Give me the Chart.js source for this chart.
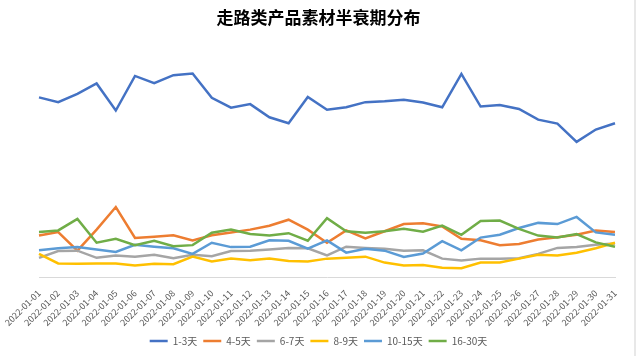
<!DOCTYPE html>
<html>
<head>
<meta charset="utf-8">
<script src="https://cdn.jsdelivr.net/npm/chart.js@4/dist/chart.umd.min.js"></script>
<style>
html,body{margin:0;padding:0;background:#fff;}
#wrap{position:relative;width:637px;height:356px;}
#edge{position:absolute;left:634px;top:0;width:2px;height:356px;background:#e8e8e8;}
</style>
</head>
<body>
<div id="wrap"><canvas id="c" width="637" height="356"></canvas><div id="edge"></div></div>
<script>
const categories = ["2022-01-01","2022-01-02","2022-01-03","2022-01-04","2022-01-05","2022-01-06","2022-01-07","2022-01-08","2022-01-09","2022-01-10","2022-01-11","2022-01-12","2022-01-13","2022-01-14","2022-01-15","2022-01-16","2022-01-17","2022-01-18","2022-01-19","2022-01-20","2022-01-21","2022-01-22","2022-01-23","2022-01-24","2022-01-25","2022-01-26","2022-01-27","2022-01-28","2022-01-29","2022-01-30","2022-01-31"];
const seriesNames = ["1-3天","4-5天","6-7天","8-9天","10-15天","16-30天"];
const d1to3 = [45.4,44.2,46.3,48.9,42.1,50.8,49.0,51.0,51.4,45.3,42.8,43.7,40.4,38.9,45.5,42.3,42.9,44.2,44.4,44.8,44.1,42.9,51.3,43.1,43.5,42.5,39.8,38.8,34.2,37.3,38.9];
const d4to5 = [10.6,11.5,6.8,12.1,17.8,10.0,10.3,10.7,9.4,10.7,11.4,12.1,13.1,14.6,12.1,8.8,11.9,9.9,11.7,13.5,13.7,12.9,9.8,9.4,8.2,8.5,9.6,10.2,10.8,11.9,11.5];
const d6to7 = [5.0,6.7,6.8,5.0,5.6,5.3,5.8,4.9,5.8,5.4,6.7,6.8,7.1,7.5,7.4,5.6,7.8,7.5,7.3,6.8,6.9,4.8,4.3,4.8,4.8,4.9,6.0,7.5,7.7,8.3,8.6];
const d8to9 = [6.0,3.6,3.5,3.6,3.6,3.1,3.5,3.4,5.3,4.1,4.8,4.4,4.8,4.2,4.1,4.8,5.0,5.3,3.8,3.1,3.2,2.5,2.4,3.8,3.8,4.8,5.8,5.6,6.3,7.4,8.8];
const d10to15 = [6.9,7.4,7.7,7.1,6.5,8.3,7.8,7.4,6.0,8.8,7.7,7.8,9.4,9.3,7.3,9.4,6.3,7.3,6.8,5.2,6.1,9.2,6.9,10.1,10.8,12.5,13.8,13.5,15.3,11.4,10.8];
const d16to30 = [11.5,11.9,14.8,8.8,9.8,8.2,9.3,7.9,8.2,11.3,12.1,11.0,10.6,11.2,9.3,15.0,11.7,11.3,11.7,12.3,11.6,13.1,10.8,14.3,14.4,12.3,10.6,10.1,11.0,8.9,7.8];
const seriesData = [d1to3,d4to5,d6to7,d8to9,d10to15,d16to30];
const colors = ["#4472C4","#ED7D31","#A5A5A5","#FFC000","#5B9BD5","#70AD47"];

const FONT = "'Noto Sans CJK SC','Noto Sans',sans-serif";
const datasets = seriesNames.map((n,i)=>({
  label:n,
  data:seriesData[i],
  borderColor:colors[i],
  backgroundColor:colors[i],
  borderWidth:2.5,
  pointRadius:0,
  pointHoverRadius:0,
  tension:0,
  fill:false,
  order:5-i
}));

new Chart(document.getElementById('c'),{
  type:'line',
  data:{labels:categories,datasets},
  options:{
    responsive:false,
    animation:false,
    layout:{padding:{left:22,right:22,top:0,bottom:0}},
    plugins:{
      title:{display:true,text:"走路类产品素材半衰期分布",color:"#000",font:{family:FONT,size:17,weight:'bold'},padding:{top:7,bottom:12}},
      legend:{position:'bottom',labels:{usePointStyle:true,pointStyle:'line',pointStyleWidth:18,color:"#595959",font:{family:FONT,size:10},padding:6,
        sort:(a,b)=>a.datasetIndex-b.datasetIndex},
        onClick:null},
      tooltip:{enabled:false}
    },
    scales:{
      x:{
        grid:{display:false},
        border:{display:true,color:"#d9d9d9",width:1},
        ticks:{color:"#595959",font:{family:FONT,size:9},maxRotation:45,minRotation:45,autoSkip:false,padding:2},
        afterFit:(s)=>{ s.paddingLeft = 39; s.paddingRight = 0; }
      },
      y:{display:false,min:0,max:60}
    }
  }
});
</script>
</body>
</html>
